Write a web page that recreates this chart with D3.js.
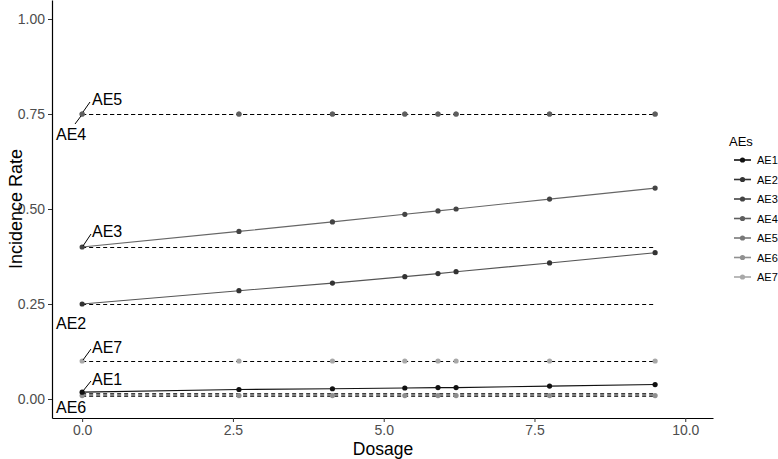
<!DOCTYPE html>
<html><head><meta charset="utf-8">
<script src="https://cdn.jsdelivr.net/npm/d3@7"></script>
<style>body{margin:0;background:#fff}svg{display:block}text{font-family:"Liberation Sans",Arial,sans-serif}</style>
</head><body>
<svg id="c" width="778" height="459"></svg>
<script>
const doses = [0, 2.6, 4.15, 5.35, 5.9, 6.2, 7.75, 9.5];
const seriesNames = ["AE1","AE2","AE3","AE4","AE5","AE6","AE7"];
const ae1 = [0.018, 0.025, 0.027, 0.029, 0.030, 0.030, 0.034, 0.038];
const ae2 = [0.25, 0.285, 0.305, 0.322, 0.330, 0.335, 0.358, 0.385];
const ae3 = [0.40, 0.441, 0.466, 0.486, 0.495, 0.500, 0.526, 0.555];
const ae4 = [0.75, 0.75, 0.75, 0.75, 0.75, 0.75, 0.75, 0.75];
const ae5 = [0.75, 0.75, 0.75, 0.75, 0.75, 0.75, 0.75, 0.75];
const ae6 = [0.009, 0.009, 0.009, 0.009, 0.009, 0.009, 0.009, 0.009];
const ae7 = [0.10, 0.10, 0.10, 0.10, 0.10, 0.10, 0.10, 0.10];
const baselines = [0.015, 0.25, 0.40, 0.75, 0.75, 0.009, 0.10];
const trending = [true, true, true, false, false, false, false];
const xTicks = [0, 2.5, 5, 7.5, 10];
const yTicks = [0, 0.25, 0.5, 0.75, 1];
const colors = ["#111111","#333333","#444444","#5e5e5e","#787878","#909090","#a8a8a8"];
const lineColors = ["#111111","#555555","#666666"];
const values = [ae1, ae2, ae3, ae4, ae5, ae6, ae7];

const svg = d3.select("#c");
const x = d3.scaleLinear().domain([-0.5, 10.46]).range([52, 713]);
const y = d3.scaleLinear().domain([-0.05, 1.05]).range([418, 0]);

const xAxis = svg.append("g").attr("transform","translate(0,418)")
  .call(d3.axisBottom(x).tickValues(xTicks).tickFormat(d3.format(".1f")).tickSize(4).tickSizeOuter(0));
const yAxis = svg.append("g").attr("transform","translate(52,0)")
  .call(d3.axisLeft(y).tickValues(yTicks).tickFormat(d3.format(".2f")).tickSize(4).tickSizeOuter(0));
[xAxis, yAxis].forEach(g => {
  g.select(".domain").attr("stroke","#000").attr("stroke-width",1.2);
  g.selectAll(".tick line").attr("stroke","#333");
  g.selectAll(".tick text").attr("fill","#4d4d4d").style("font-size","14px");
});
xAxis.selectAll(".tick text").attr("y",7).attr("dy","0.71em");
yAxis.selectAll(".tick text").attr("x",-7).attr("dy","0.35em");

svg.append("text").attr("x", 383).attr("y", 455).attr("text-anchor","middle")
  .style("font-size","17.5px").text("Dosage");
svg.append("text").attr("transform","translate(22,209) rotate(-90)").attr("text-anchor","middle")
  .style("font-size","18px").text("Incidence Rate");

seriesNames.forEach((n,i) => {
  svg.append("line").attr("x1", x(doses[0])).attr("x2", x(doses[doses.length-1]))
    .attr("y1", y(baselines[i]) + 0.5).attr("y2", y(baselines[i]) + 0.5)
    .attr("stroke","#000").attr("stroke-width",1.2).attr("stroke-dasharray","4,3");
});
const line = d3.line().x((d,j) => x(doses[j])).y(d => y(d));
seriesNames.forEach((n,i) => {
  if (!trending[i]) return;
  svg.append("path").datum(values[i]).attr("d", line).attr("fill","none")
    .attr("stroke", lineColors[i]).attr("stroke-width",1.1);
});
for (let i = seriesNames.length-1; i >= 0; i--) {
  svg.append("g").selectAll("circle").data(values[i]).join("circle")
    .attr("cx",(d,j)=>x(doses[j])).attr("cy",d=>y(d)).attr("r",2.6).attr("fill",colors[i]);
}

const labels = [
  {name:"AE5", tx:92, ty:105, seg:[[83,112],[90,102]]},
  {name:"AE4", tx:56, ty:140, seg:[[81,116],[75,124]]},
  {name:"AE3", tx:92, ty:237, seg:[[83,246],[91,234]]},
  {name:"AE2", tx:56, ty:329, seg:null},
  {name:"AE7", tx:92, ty:353, seg:[[83,360],[91,349]]},
  {name:"AE1", tx:92, ty:385, seg:[[83,391],[91,381]]},
  {name:"AE6", tx:56, ty:413, seg:null}
];
labels.forEach(l => {
  if (l.seg) svg.append("line").attr("x1",l.seg[0][0]).attr("y1",l.seg[0][1])
    .attr("x2",l.seg[1][0]).attr("y2",l.seg[1][1]).attr("stroke","#000").attr("stroke-width",1);
  svg.append("text").attr("x",l.tx).attr("y",l.ty).style("font-size","16px").attr("fill","#000").text(l.name);
});

const lg = svg.append("g");
lg.append("text").attr("x",729).attr("y",146).style("font-size","13px").text("AEs");
seriesNames.forEach((n,i) => {
  const yy = 160 + i*19.5;
  lg.append("line").attr("x1",734).attr("x2",751).attr("y1",yy).attr("y2",yy)
    .attr("stroke",colors[i]).attr("stroke-width",1.6);
  lg.append("circle").attr("cx",742.5).attr("cy",yy).attr("r",2.6).attr("fill",colors[i]);
  lg.append("text").attr("x",757).attr("y",yy+4).style("font-size","11px").text(n);
});
</script>
</body></html>
